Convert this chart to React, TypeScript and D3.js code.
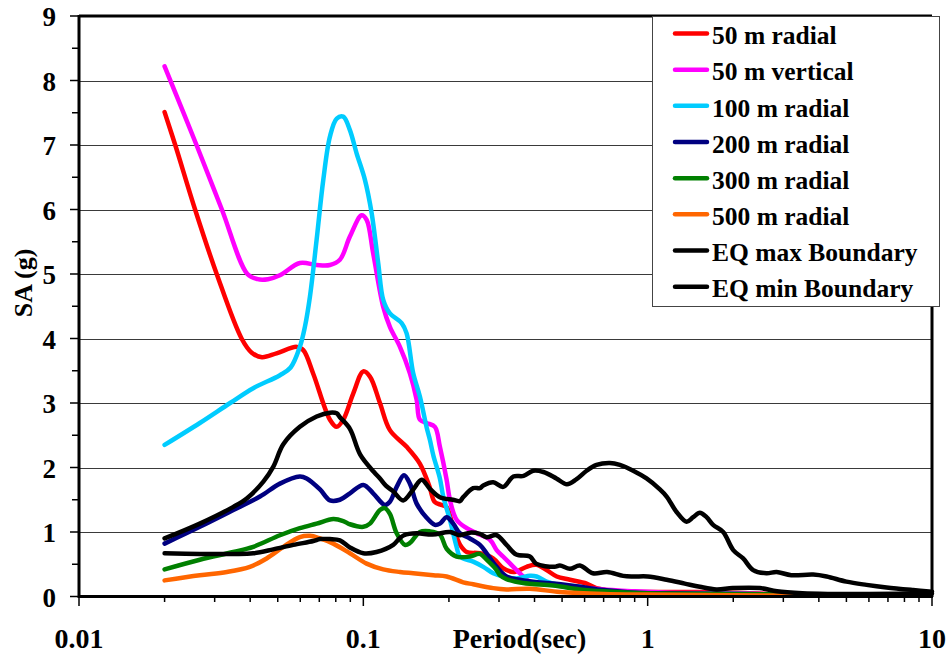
import React from 'react';
import * as d3 from 'd3';

type Pt = [number, number];

// ---- data (period in sec, SA in g) ----
const radial50: Pt[] = [
  [0.02, 7.51], [0.0218, 7.0], [0.0256, 6.0], [0.0305, 5.0], [0.0373, 4.0], [0.0405, 3.78], [0.044, 3.71],
  [0.0495, 3.77], [0.0583, 3.87], [0.0615, 3.82], [0.0667, 3.45], [0.0763, 2.74], [0.0806, 2.63],
  [0.085, 2.74], [0.0922, 3.15], [0.1, 3.49], [0.1055, 3.41], [0.1144, 3.0], [0.124, 2.58],
  [0.142, 2.32], [0.158, 2.06], [0.171, 1.7], [0.178, 1.47], [0.188, 1.42], [0.196, 1.39],
  [0.207, 1.08], [0.219, 0.8], [0.231, 0.69], [0.257, 0.67], [0.286, 0.59], [0.31, 0.44],
  [0.337, 0.38], [0.375, 0.46], [0.406, 0.49], [0.441, 0.41], [0.479, 0.31], [0.533, 0.26],
  [0.61, 0.2], [0.66, 0.13], [0.8, 0.08], [1.0, 0.07], [1.5, 0.07], [2.0, 0.06], [3.0, 0.03], [4.0, 0.02],
];
const vertical50: Pt[] = [
  [0.02, 8.22], [0.0259, 7.0], [0.0318, 6.0], [0.0391, 5.0], [0.0425, 4.92], [0.0462, 4.92],
  [0.0509, 4.98], [0.0598, 5.17], [0.0685, 5.14], [0.0763, 5.14], [0.0827, 5.22], [0.0897, 5.58],
  [0.0986, 5.91], [0.1027, 5.84], [0.1083, 5.32], [0.1175, 4.49], [0.124, 4.18], [0.1345, 3.87],
  [0.1458, 3.46], [0.154, 3.05], [0.1581, 2.74], [0.167, 2.69], [0.1785, 2.63], [0.1859, 2.32],
  [0.1963, 1.81], [0.2016, 1.5], [0.2128, 1.19], [0.231, 1.06], [0.2503, 0.98], [0.2787, 0.88],
  [0.2943, 0.72], [0.31, 0.62], [0.337, 0.46], [0.365, 0.31], [0.385, 0.23], [0.441, 0.2],
  [0.51, 0.15], [0.5775, 0.13], [0.7, 0.11], [0.9, 0.08], [1.2, 0.06], [2.0, 0.05], [3.0, 0.03], [4.0, 0.02],
];
const radial100: Pt[] = [
  [0.02, 2.35], [0.0266, 2.69], [0.034, 3.0], [0.041, 3.23], [0.0509, 3.43], [0.0555, 3.55],
  [0.0598, 3.87], [0.0623, 4.18], [0.0649, 4.65], [0.0685, 5.53], [0.0723, 6.46], [0.0763, 7.13],
  [0.0806, 7.41], [0.085, 7.44], [0.0897, 7.23], [0.0947, 6.87], [0.1013, 6.46], [0.107, 5.94],
  [0.1128, 5.17], [0.1175, 4.6], [0.124, 4.39], [0.1364, 4.24], [0.142, 4.08], [0.1498, 3.46],
  [0.1581, 3.1], [0.167, 2.62], [0.1714, 2.43], [0.1762, 2.19], [0.1859, 1.83], [0.191, 1.55],
  [0.2016, 1.19], [0.2128, 0.77], [0.2186, 0.62], [0.2434, 0.54], [0.2641, 0.46], [0.2863, 0.36],
  [0.3104, 0.31], [0.346, 0.28], [0.3853, 0.32], [0.4069, 0.31], [0.441, 0.23], [0.4912, 0.18],
  [0.5775, 0.15], [0.6415, 0.1], [0.8, 0.06], [1.0, 0.05], [2.0, 0.04], [3.0, 0.03], [4.0, 0.02],
];
const radial200: Pt[] = [
  [0.02, 0.82], [0.0266, 1.08], [0.0349, 1.34], [0.0433, 1.55], [0.0509, 1.75], [0.0598, 1.86],
  [0.0632, 1.83], [0.0704, 1.66], [0.0763, 1.49], [0.0827, 1.5], [0.0897, 1.6], [0.1, 1.73],
  [0.1083, 1.6], [0.119, 1.42], [0.124, 1.47], [0.131, 1.7], [0.139, 1.88], [0.1458, 1.75],
  [0.154, 1.44], [0.167, 1.22], [0.1785, 1.11], [0.1859, 1.13], [0.1963, 1.23], [0.2071, 1.13],
  [0.2186, 0.98], [0.237, 0.9], [0.257, 0.8], [0.2714, 0.67], [0.2943, 0.46], [0.3189, 0.31],
  [0.3553, 0.26], [0.3958, 0.23], [0.4653, 0.2], [0.5775, 0.15], [0.7, 0.1], [0.9, 0.06],
  [1.2, 0.05], [2.0, 0.04], [3.0, 0.03], [4.0, 0.02],
];
const radial300: Pt[] = [
  [0.02, 0.42], [0.0266, 0.57], [0.0349, 0.69], [0.041, 0.77], [0.0509, 0.95], [0.0598, 1.06],
  [0.0685, 1.13], [0.0784, 1.2], [0.085, 1.17], [0.0897, 1.12], [0.1, 1.08], [0.1055, 1.13],
  [0.1144, 1.34], [0.119, 1.37], [0.124, 1.28], [0.131, 0.98], [0.1401, 0.8], [0.1458, 0.83],
  [0.1581, 1.0], [0.1714, 1.01], [0.1859, 0.96], [0.1963, 0.74], [0.2128, 0.62], [0.237, 0.62],
  [0.257, 0.66], [0.2714, 0.57], [0.2943, 0.41], [0.3022, 0.33], [0.3189, 0.27], [0.365, 0.21],
  [0.4653, 0.17], [0.5775, 0.11], [0.7, 0.08], [1.0, 0.05], [2.0, 0.04], [3.0, 0.03], [4.0, 0.02],
];
const radial500: Pt[] = [
  [0.02, 0.25], [0.0266, 0.33], [0.0331, 0.38], [0.0399, 0.46], [0.0457, 0.59], [0.0523, 0.77],
  [0.0598, 0.92], [0.0649, 0.94], [0.0704, 0.9], [0.0784, 0.82], [0.0897, 0.67], [0.1027, 0.51],
  [0.1175, 0.42], [0.1345, 0.38], [0.1498, 0.36], [0.1762, 0.33], [0.1963, 0.31], [0.2245, 0.22],
  [0.2434, 0.19], [0.2863, 0.13], [0.3189, 0.11], [0.3853, 0.12], [0.4912, 0.07], [0.7, 0.04],
  [1.0, 0.03], [2.0, 0.02], [4.0, 0.01],
];
const eqMax: Pt[] = [
  [0.02, 0.9], [0.0266, 1.13], [0.0349, 1.39], [0.0389, 1.52], [0.0445, 1.78], [0.0482, 2.01],
  [0.0523, 2.36], [0.0598, 2.63], [0.0685, 2.79], [0.0763, 2.85], [0.0806, 2.84], [0.0827, 2.78],
  [0.0897, 2.6], [0.0975, 2.2], [0.109, 1.93], [0.1144, 1.83], [0.12, 1.72], [0.1274, 1.63],
  [0.1381, 1.49], [0.1498, 1.66], [0.1603, 1.81], [0.1714, 1.67], [0.1859, 1.54], [0.2063, 1.5],
  [0.2186, 1.48], [0.2245, 1.54], [0.2434, 1.68], [0.257, 1.68], [0.2641, 1.72], [0.2863, 1.77],
  [0.3104, 1.7], [0.337, 1.86], [0.366, 1.87], [0.3958, 1.95], [0.43, 1.93], [0.4775, 1.83],
  [0.52, 1.74], [0.5623, 1.82], [0.61, 1.95], [0.661, 2.04], [0.7363, 2.07], [0.7983, 2.04],
  [0.8892, 1.95], [0.991, 1.83], [1.104, 1.66], [1.166, 1.55], [1.264, 1.31], [1.37, 1.16],
  [1.446, 1.23], [1.526, 1.3], [1.611, 1.23], [1.699, 1.11], [1.843, 1.0], [2.0, 0.72],
  [2.167, 0.59], [2.35, 0.41], [2.618, 0.36], [2.84, 0.38], [3.2, 0.33], [3.82, 0.34],
  [4.26, 0.31], [5.0, 0.23], [5.885, 0.18], [6.92, 0.14], [8.58, 0.1], [10, 0.075],
];
const eqMin: Pt[] = [
  [0.02, 0.67], [0.0266, 0.66], [0.0349, 0.66], [0.041, 0.67], [0.0482, 0.73], [0.0567, 0.8],
  [0.0667, 0.86], [0.0704, 0.89], [0.0763, 0.89], [0.0827, 0.87], [0.0897, 0.76], [0.1, 0.67],
  [0.1113, 0.69], [0.1274, 0.8], [0.134, 0.9], [0.139, 0.95], [0.154, 0.98], [0.175, 0.96],
  [0.2016, 1.0], [0.2186, 0.95], [0.237, 0.99], [0.257, 0.97], [0.2714, 0.92], [0.2943, 0.95],
  [0.3189, 0.8], [0.345, 0.65], [0.3853, 0.62], [0.405, 0.51], [0.47, 0.46], [0.4912, 0.48],
  [0.533, 0.43], [0.5775, 0.48], [0.6415, 0.36], [0.72, 0.38], [0.82, 0.32], [0.89, 0.31],
  [1.0, 0.31], [1.166, 0.26], [1.35, 0.2], [1.526, 0.15], [1.744, 0.11], [1.99, 0.13],
  [2.48, 0.13], [2.85, 0.08], [3.5, 0.05], [4.3, 0.04], [6.0, 0.04], [10, 0.05],
];

const seriesNames = ['50 m radial', '50 m vertical', '100 m radial', '200 m radial', '300 m radial', '500 m radial', 'EQ max Boundary', 'EQ min Boundary'];
const seriesColors = ['#FF0000', '#FF00FF', '#00CCFF', '#000080', '#008000', '#FF6600', '#000000', '#000000'];
const seriesData = [radial50, vertical50, radial100, radial200, radial300, radial500, eqMax, eqMin];

const yTickValues = [0, 1, 2, 3, 4, 5, 6, 7, 8, 9];
const xTickValues = [0.01, 0.1, 1, 10];
const xTickLabels = ['0.01', '0.1', '1', '10'];
const xAxisTitle = 'Period(sec)';
const yAxisTitle = 'SA (g)';

const FONT = '"Liberation Serif", "Times New Roman", serif';

export default function App() {
  const x = d3.scaleLog().domain([0.01, 10]).range([79, 932]);
  const y = d3.scaleLinear().domain([0, 9]).range([596.5, 16]);
  const line = d3.line<Pt>()
    .x(d => x(d[0]))
    .y(d => y(d[1]))
    .curve(d3.curveCatmullRom.alpha(0.5));

  const minorX: number[] = [];
  [0.01, 0.1, 1].forEach(dec => { for (let k = 2; k <= 9; k++) minorX.push(dec * k); });
  const minorY = d3.range(0.5, 9, 1);

  const legX = 652, legY = 16, legW = 287, legH = 290;

  return (
    <svg width={952} height={660} style={{ position: 'absolute', left: 0, top: 0, background: '#fff' }}
      fontFamily={FONT} fontWeight="bold">
      <rect x={0} y={0} width={952} height={660} fill="#fff" />
      {/* gridlines */}
      {yTickValues.filter(v => v > 0 && v < 9).map(v => (
        <line key={'g' + v} x1={79} x2={932} y1={Math.round(y(v)) + 0.5} y2={Math.round(y(v)) + 0.5} stroke="#3a3a3a" strokeWidth={1} />
      ))}
      {/* series */}
      <g>
        {seriesData.map((d, i) => (
          <path key={i} d={line(d) || ''} fill="none" stroke={seriesColors[i]} strokeWidth={4.5}
            strokeLinejoin="round" strokeLinecap="round" />
        ))}
      </g>
      {/* frame */}
      <line x1={79} x2={932} y1={16} y2={16} stroke="#000" strokeWidth={3} />
      <line x1={932} x2={932} y1={16} y2={597} stroke="#000" strokeWidth={3} />
      <line x1={79} x2={79} y1={15} y2={598} stroke="#000" strokeWidth={3} />
      <line x1={78} x2={933} y1={596.5} y2={596.5} stroke="#000" strokeWidth={3} />
      {/* y ticks */}
      {yTickValues.map(v => (
        <line key={'yt' + v} x1={70} x2={79} y1={y(v)} y2={y(v)} stroke="#000" strokeWidth={1.5} />
      ))}
      {minorY.map(v => (
        <line key={'ym' + v} x1={72} x2={79} y1={y(v)} y2={y(v)} stroke="#000" strokeWidth={1.5} />
      ))}
      {yTickValues.map(v => (
        <text key={'yl' + v} x={56} y={y(v) + 10} textAnchor="end" fontSize={27}>{v}</text>
      ))}
      {/* x ticks */}
      {xTickValues.map(v => (
        <line key={'xt' + v} x1={x(v)} x2={x(v)} y1={597} y2={606} stroke="#000" strokeWidth={1.5} />
      ))}
      {minorX.map(v => (
        <line key={'xm' + v} x1={x(v)} x2={x(v)} y1={597} y2={602} stroke="#000" strokeWidth={1.5} />
      ))}
      {xTickValues.map((v, i) => (
        <text key={'xl' + v} x={x(v)} y={648} textAnchor="middle" fontSize={28}>{xTickLabels[i]}</text>
      ))}
      <text x={519.5} y={648} textAnchor="middle" fontSize={28}>{xAxisTitle}</text>
      <text transform="translate(32,283) rotate(-90)" textAnchor="middle" fontSize={26}>{yAxisTitle}</text>
      {/* legend */}
      <rect x={legX + 0.5} y={legY + 0.5} width={legW} height={legH} fill="#fff" stroke="#444" strokeWidth={1} />
      {seriesNames.map((n, i) => {
        const cy = 33.5 + i * 36.17;
        return (
          <g key={'lg' + i}>
            <line x1={675} x2={707} y1={cy} y2={cy} stroke={seriesColors[i]} strokeWidth={4.5} strokeLinecap="round" />
            <text x={712} y={cy + 10.7} fontSize={25.5}>{n}</text>
          </g>
        );
      })}
    </svg>
  );
}
